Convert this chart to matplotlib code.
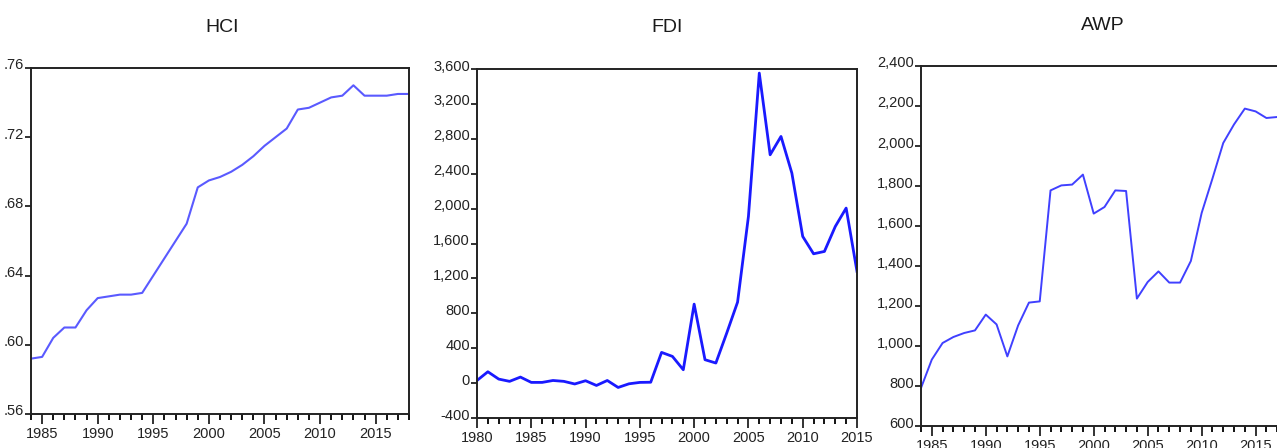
import matplotlib
matplotlib.use("Agg")
import matplotlib.pyplot as plt
from matplotlib.ticker import MultipleLocator, FuncFormatter
from matplotlib import font_manager
import matplotlib.transforms as mtransforms

# ---------------- data ----------------
hci_years = list(range(1984, 2019))
hci_values = [0.592, 0.593, 0.604, 0.610, 0.610, 0.620, 0.627, 0.628, 0.629, 0.629,
              0.630, 0.640, 0.650, 0.660, 0.670, 0.691, 0.695, 0.697, 0.700, 0.704,
              0.709, 0.715, 0.720, 0.725, 0.736, 0.737, 0.740, 0.743, 0.744, 0.750,
              0.744, 0.744, 0.744, 0.745, 0.745]

fdi_years = list(range(1980, 2016))
fdi_values = [30, 130, 46, 20, 69, 8, 8, 30, 20, -10,
              27, -27, 30, -50, -8, 8, 10, 352, 306, 153,
              905, 268, 230, 573, 928, 1910, 3553, 2617, 2827, 2407,
              1681, 1482, 1509, 1795, 2006, 1280]

awp_years = list(range(1984, 2019))
awp_values = [790, 932, 1015, 1045, 1065, 1078, 1157, 1108, 948, 1103,
              1217, 1223, 1778, 1803, 1807, 1857, 1662, 1695, 1778, 1775,
              1237, 1320, 1373, 1317, 1317, 1425, 1665, 1837, 2015, 2108,
              2187, 2173, 2140, 2145, 2150]

titles = ["HCI", "FDI", "AWP"]

# ---------------- fonts ----------------
avail = {f.name for f in font_manager.fontManager.ttflist}
narrow = "Liberation Sans Narrow" if "Liberation Sans Narrow" in avail else "Liberation Sans"
plt.rcParams["font.family"] = [narrow, "DejaVu Sans"]

W, H = 1277, 448
fig = plt.figure(figsize=(W / 100, H / 100), dpi=100)


def px_axes(left, right, top, bottom):
    return fig.add_axes([left / W, 1 - bottom / H, (right - left) / W, (bottom - top) / H])


def style(ax, xmin, xmax, ymin, ymax, ystep, yfmt):
    ax.set_xlim(xmin, xmax)
    ax.set_ylim(ymin, ymax)
    ax.xaxis.set_major_locator(MultipleLocator(5))
    ax.xaxis.set_minor_locator(MultipleLocator(1))
    ax.yaxis.set_major_locator(MultipleLocator(ystep))
    ax.yaxis.set_major_formatter(FuncFormatter(yfmt))
    ax.tick_params(axis="x", which="major", direction="out", length=7, width=1.3,
                   labelsize=10.5, pad=2, colors="#222222")
    ax.tick_params(axis="x", which="minor", direction="out", length=4.5, width=1.3)
    ax.tick_params(axis="y", which="major", direction="out", length=4, width=1.3,
                   labelsize=10.5, pad=1, colors="#222222")
    ax.tick_params(top=False, right=False)
    for s in ax.spines.values():
        s.set_linewidth(1.4)
        s.set_color("#222222")
    offset = mtransforms.ScaledTranslation(0, 4 / 100, fig.dpi_scale_trans)
    for lab in ax.get_yticklabels():
        lab.set_transform(lab.get_transform() + offset)


def fmt_hci(v, pos):
    s = f"{v:.2f}"
    return s[1:] if s.startswith("0") else s


def fmt_thousands(v, pos):
    return f"{int(round(v)):,}"


# HCI
ax1 = px_axes(31, 409, 68, 414)
ax1.plot(hci_years, hci_values, color="#5a5aff", lw=1.5)
style(ax1, 1984, 2018, 0.56, 0.76, 0.04, fmt_hci)

# FDI
ax2 = px_axes(477, 857, 69, 418)
ax2.plot(fdi_years, fdi_values, color="#1a1aff", lw=2.0)
style(ax2, 1980, 2015, -400, 3600, 400, fmt_thousands)

# AWP (panel cut off at right edge, as in the reference)
ax3 = px_axes(921, 1288, 66, 426)
ax3.plot(awp_years, awp_values, color="#4040ff", lw=1.4)
style(ax3, 1984, 2018, 600, 2400, 200, fmt_thousands)

# titles
for t, x, y in zip(titles, [222, 667, 1103], [27, 27, 25]):
    fig.text(x / W, 1 - y / H, t, ha="center", va="center", fontsize=14, color="#1a1a1a")

fig.savefig("out.png", dpi=100)
